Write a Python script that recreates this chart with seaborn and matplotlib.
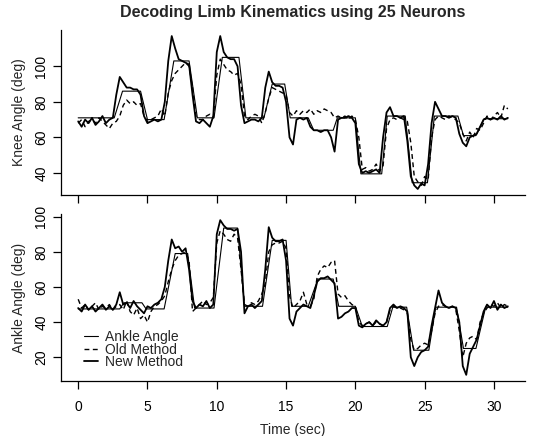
import numpy as np
import matplotlib
matplotlib.use("Agg")
import matplotlib.pyplot as plt
import seaborn as sns

# decoded series sampled every 0.25 s (0 .. 31 s)
dt = 0.25

knee_new = [
    69, 66, 70, 68, 71, 67, 69, 72, 68, 70, 71, 84,
    94, 91, 88, 88, 87, 87, 84, 72, 68, 69, 70, 69,
    70, 80, 103, 117, 110, 104, 103, 102, 101, 84, 69, 68,
    70, 68, 66, 72, 108, 117, 108, 105, 104, 104, 100, 78,
    68, 69, 70, 70, 69, 71, 88, 97, 91, 89, 89, 88,
    80, 60, 56, 70, 71, 70, 71, 66, 64, 64, 63, 64,
    64, 60, 52, 70, 71, 71, 72, 71, 68, 45, 40, 41,
    40, 41, 42, 40, 60, 74, 77, 72, 72, 71, 72, 58,
    38, 33, 31, 34, 33, 45, 68, 80, 76, 72, 72, 71,
    72, 71, 62, 57, 55, 60, 61, 62, 66, 70, 71, 70,
    71, 70, 72, 70, 71,
]
knee_old = [
    68, 70, 66, 69, 70, 68, 71, 69, 67, 65, 68, 69,
    72, 78, 81, 79, 80, 78, 79, 72, 69, 70, 71, 72,
    76, 72, 85, 92, 96, 98, 100, 102, 100, 88, 72, 70,
    70, 72, 73, 71, 95, 104, 101, 98, 97, 95, 96, 90,
    72, 70, 72, 73, 72, 68, 74, 82, 88, 87, 86, 85,
    84, 74, 72, 75, 73, 75, 74, 76, 73, 75, 74, 76,
    75, 74, 71, 72, 71, 72, 70, 72, 70, 60, 42, 43,
    41, 42, 45, 41, 44, 65, 70, 71, 70, 71, 70, 69,
    57, 38, 35, 33, 38, 36, 60, 70, 72, 71, 70, 72,
    71, 70, 68, 62, 58, 63, 60, 65, 64, 68, 72, 70,
    72, 74, 71, 78, 76,
]
ankle_new = [
    48, 46, 50, 47, 49, 46, 48, 50, 47, 49, 47, 50,
    57, 50, 51, 48, 52, 49, 47, 45, 49, 48, 50, 51,
    53, 60, 75, 87, 82, 83, 80, 82, 70, 52, 48, 50,
    49, 52, 48, 50, 90, 98, 95, 93, 93, 92, 93, 80,
    45, 49, 50, 48, 50, 52, 70, 94, 88, 86, 86, 87,
    75, 42, 38, 46, 48, 50, 49, 48, 55, 63, 65, 65,
    66, 64, 62, 42, 43, 45, 46, 48, 48, 38, 37, 39,
    40, 38, 41, 39, 38, 40, 48, 50, 48, 49, 48, 46,
    20, 15, 20, 23, 24, 26, 38, 48, 58, 51, 49, 48,
    49, 48, 40, 15, 10, 22, 26, 30, 38, 46, 50, 48,
    52, 47, 50, 48, 49,
]
ankle_old = [
    53, 48, 50, 47, 49, 51, 47, 49, 48, 50, 47, 49,
    50, 47, 52, 46, 44, 48, 42, 44, 40, 46, 49, 50,
    52, 55, 63, 70, 75, 78, 79, 80, 75, 46, 48, 50,
    52, 50, 51, 54, 85, 92, 90, 87, 86, 90, 88, 70,
    50, 49, 51, 50, 52, 56, 62, 80, 84, 85, 85, 86,
    82, 55, 48, 50, 52, 57, 50, 49, 53, 66, 70, 72,
    71, 74, 75, 56, 54, 55, 52, 50, 49, 40, 38, 39,
    40, 38, 40, 39, 38, 40, 47, 49, 48, 48, 47, 45,
    30, 24, 25, 27, 28, 27, 35, 45, 49, 50, 49, 48,
    49, 47, 35, 20, 28, 31, 32, 30, 40, 45, 48, 50,
    49, 51, 48, 50, 49,
]

# measured angles (step-like), given as breakpoints
knee_t = [0, 2.6, 3.2, 4.5, 5.0, 6.2, 6.9, 8.0, 8.6, 9.8, 10.4, 11.6, 12.1,
          13.4, 14.0, 14.9, 15.3, 16.6, 17.0, 18.4, 18.7, 20.0, 20.4, 21.9,
          22.3, 23.6, 24.1, 25.2, 25.7, 27.4, 27.8, 28.7, 29.3, 31.0]
knee_true = [71, 71, 86, 86, 70, 70, 103, 103, 71, 71, 105, 105, 71,
             71, 90, 90, 71, 71, 64, 64, 71, 71, 39.5, 39.5,
             72, 72, 34.5, 34.5, 72, 72, 61, 61, 70.5, 70.5]
ankle_t = [0, 3.0, 3.3, 4.6, 4.9, 6.2, 7.0, 7.9, 8.4, 9.8, 10.5, 11.5, 12.0,
           13.3, 14.0, 15.0, 15.4, 16.6, 17.3, 18.4, 18.8, 20.0, 20.5, 22.3,
           22.7, 23.7, 24.2, 25.3, 25.8, 27.3, 27.8, 28.7, 29.4, 31.0]
ankle_true = [47.5, 47.5, 51, 51, 47.5, 47.5, 79, 79, 48, 48, 93.5, 93.5, 49,
              49, 86.5, 86.5, 49, 49, 64.5, 64.5, 49, 49, 37.5, 37.5,
              48.5, 48.5, 24, 24, 48.5, 48.5, 25, 25, 48.5, 48.5]

x_ticks = [0, 5, 10, 15, 20, 25, 30]


def draw_panel(ax, t_true, v_true, v_old, v_new, legend):
    t = np.arange(len(v_new)) * dt
    sns.lineplot(x=t_true, y=v_true, ax=ax, color="black", linewidth=0.8,
                 label="Ankle Angle" if legend else None)
    sns.lineplot(x=t, y=v_old, ax=ax, color="black", linewidth=1.0,
                 label="Old Method" if legend else None)
    ax.lines[-1].set_dashes([3.5, 2.5])
    sns.lineplot(x=t, y=v_new, ax=ax, color="black", linewidth=1.3,
                 label="New Method" if legend else None)
    sns.despine(ax=ax)
    ax.set_xlim(-1.24, 32.24)
    ax.set_xticks(x_ticks)
    ax.tick_params(length=6, width=0.9, direction="out", labelsize=10, colors="black")
    ax.tick_params(axis="x", pad=8)
    ax.tick_params(axis="y", pad=3)
    for s in ("left", "bottom"):
        ax.spines[s].set_linewidth(0.9)
        ax.spines[s].set_color("black")


def rotate_yticks(ax):
    for lab in ax.get_yticklabels():
        lab.set_rotation(90)
        lab.set_va("center")


sns.set_style("ticks")
plt.rcParams["font.family"] = ["Liberation Sans", "DejaVu Sans"]

fig = plt.figure(figsize=(5.56, 4.36), dpi=100)
ax1 = fig.add_axes([61 / 556, 1 - 195 / 436, 464 / 556, 165 / 436])
ax2 = fig.add_axes([61 / 556, 1 - 381 / 436, 464 / 556, 167 / 436])

draw_panel(ax1, knee_t, knee_true, knee_old, knee_new, False)
ax1.set_ylim(27.6, 120.4)
ax1.set_yticks([40, 60, 80, 100])
rotate_yticks(ax1)
ax1.tick_params(labelbottom=False)
ax1.set_xlabel("")
ax1.set_ylabel("Knee Angle (deg)", fontsize=10, labelpad=6)
ax1.set_title("Decoding Limb Kinematics using 25 Neurons", fontsize=11.5,
              fontweight="bold", pad=9)

draw_panel(ax2, ankle_t, ankle_true, ankle_old, ankle_new, True)
ax2.set_ylim(6.5, 101.5)
ax2.set_yticks([20, 40, 60, 80, 100])
rotate_yticks(ax2)
ax2.set_xlabel("Time (sec)", fontsize=10, labelpad=6)
ax2.set_ylabel("Ankle Angle (deg)", fontsize=10, labelpad=6)
ax2.legend(loc="upper left", bbox_to_anchor=(0.05, 0.305), frameon=False,
           fontsize=10, handlelength=1.0, handletextpad=0.5, labelspacing=-0.1,
           borderpad=0, borderaxespad=0)

fig.savefig("out.png", dpi=100)
